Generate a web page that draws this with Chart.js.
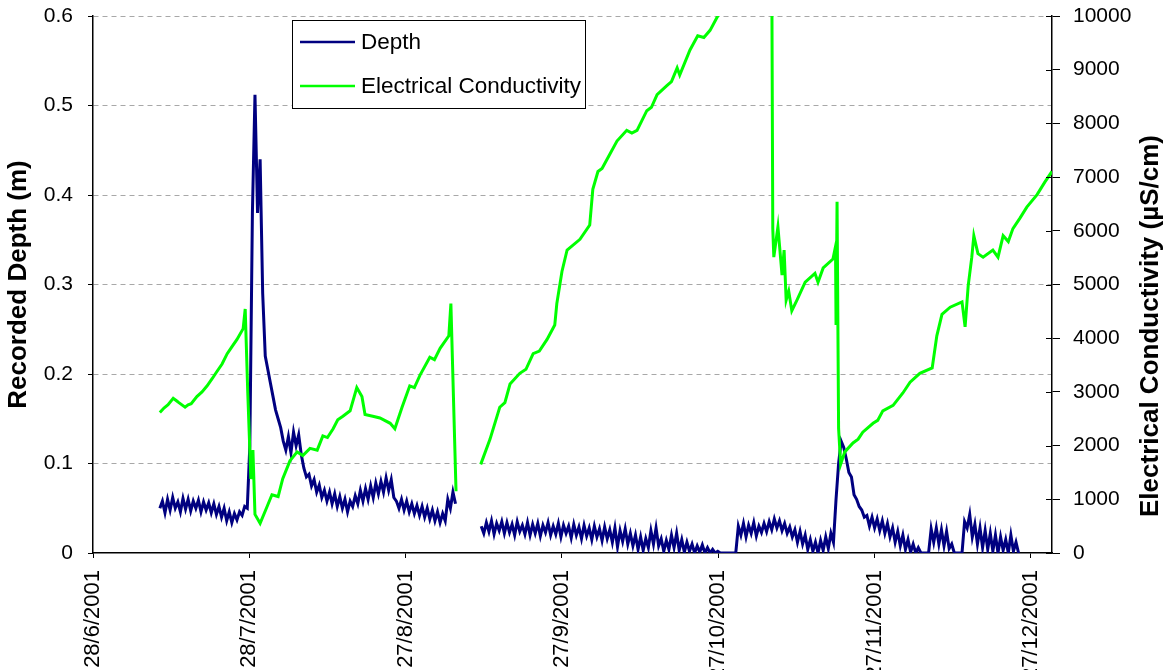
<!DOCTYPE html>
<html>
<head>
<meta charset="utf-8">
<script src="https://cdn.jsdelivr.net/npm/chart.js@4.4.0/dist/chart.umd.min.js"></script>
<style>
    body { margin: 0; background: #fff; }
    #caixa { width: 1171px; height: 670px; }
</style>
</head>
<body>
<div id="caixa"><canvas id="grafico" width="1171" height="670"></canvas></div>
<script>
// rotulos do eixo x (um a cada ~30 dias a partir de 28/6/2001)
var rotulosX = ['28/6/2001', '28/7/2001', '27/8/2001', '27/9/2001', '27/10/2001', '27/11/2001', '27/12/2001'];
var diasEntreRotulos = 30.4;
var diaMaximo = 186.5;

// profundidade (m), leituras a cada 12 h; dias contados a partir de 28/6/2001
var passoDias = 0.5;
var inicioSeg1 = 13.0;
var depthSeg1 = [
    0.050, 0.058, 0.045, 0.060, 0.048, 0.062, 0.050, 0.057, 0.046, 0.061,
    0.049, 0.060, 0.047, 0.058, 0.050, 0.059, 0.046, 0.057, 0.048, 0.056,
    0.045, 0.055, 0.043, 0.052, 0.040, 0.050, 0.036, 0.046, 0.034, 0.044,
    0.037, 0.046, 0.042, 0.052, 0.050, 0.120, 0.380, 0.512, 0.380, 0.440,
    0.290, 0.220, 0.205, 0.190, 0.175, 0.160, 0.150, 0.140, 0.125, 0.115,
    0.130, 0.112, 0.135, 0.120, 0.132, 0.110, 0.095, 0.085, 0.088, 0.075,
    0.082, 0.068, 0.076, 0.062, 0.070, 0.058, 0.068, 0.055, 0.066, 0.052,
    0.063, 0.050, 0.060, 0.046, 0.058, 0.052, 0.064, 0.055, 0.070, 0.058,
    0.072, 0.060, 0.075, 0.062, 0.078, 0.066, 0.080, 0.068, 0.084, 0.070,
    0.082, 0.062, 0.058, 0.050, 0.060, 0.048, 0.058, 0.046, 0.055, 0.044,
    0.053, 0.042, 0.052, 0.040, 0.050, 0.038, 0.048, 0.036, 0.046, 0.034,
    0.044, 0.036, 0.060, 0.050, 0.068, 0.055
];
var inicioSeg2 = 75.5;
var depthSeg2 = [
    0.030, 0.022, 0.034, 0.024, 0.036, 0.021, 0.033, 0.025, 0.035, 0.022,
    0.034, 0.023, 0.032, 0.020, 0.035, 0.024, 0.031, 0.021, 0.034, 0.020,
    0.032, 0.022, 0.033, 0.019, 0.031, 0.023, 0.034, 0.020, 0.030, 0.021,
    0.033, 0.018, 0.031, 0.022, 0.030, 0.017, 0.032, 0.020, 0.029, 0.016,
    0.031, 0.019, 0.028, 0.015, 0.030, 0.018, 0.027, 0.014, 0.029, 0.016,
    0.026, 0.012, 0.028, 0.007, 0.025, 0.013, 0.027, 0.010, 0.022, 0.008,
    0.020, 0.004, 0.018, 0.003, 0.016, 0.006, 0.025, 0.010, 0.028, 0.008,
    0.016, 0.002, 0.014, 0.004, 0.020, 0.006, 0.022, 0.003, 0.015, 0.001,
    0.012, 0.002, 0.010, 0.000, 0.008, 0.001, 0.009, 0.000, 0.006, 0.000,
    0.004, 0.000, 0.002, 0.000, 0.000, 0.000, 0.000, 0.000, 0.000, 0.000,
    0.030, 0.020, 0.033, 0.018, 0.031, 0.022, 0.034, 0.019, 0.030, 0.023,
    0.033, 0.024, 0.035, 0.026, 0.038, 0.028, 0.036, 0.025, 0.033, 0.022,
    0.029, 0.018, 0.026, 0.012, 0.024, 0.010, 0.020, 0.004, 0.015, 0.002,
    0.012, 0.000, 0.014, 0.003, 0.018, 0.005, 0.022, 0.012, 0.060, 0.100,
    0.125, 0.118, 0.105, 0.090, 0.085, 0.065, 0.060, 0.052, 0.048, 0.040,
    0.042, 0.030, 0.040, 0.028, 0.038, 0.025, 0.036, 0.022, 0.033, 0.018,
    0.028, 0.012, 0.024, 0.008, 0.020, 0.004, 0.015, 0.001, 0.010, 0.000,
    0.006, 0.000, 0.000, 0.000, 0.000, 0.027, 0.012, 0.028, 0.010, 0.026,
    0.008, 0.024, 0.005, 0.010, 0.000, 0.000, 0.000, 0.000, 0.035, 0.028,
    0.043, 0.018, 0.032, 0.010, 0.028, 0.006, 0.025, 0.004, 0.022, 0.002,
    0.020, 0.000, 0.018, 0.003, 0.015, 0.000, 0.020, 0.002, 0.012, 0.000
];
var diaFalha = 73;

// condutividade eletrica (uS/cm)
var ecDias = [
    13.0, 13.8, 14.6, 15.6, 16.3, 16.7, 17.9, 18.5, 19.1, 20.2, 21.2, 22.2, 23.2, 24.1, 25.1, 26.1, 27.0, 28.0,
    29.2, 29.6, 30.1, 30.7, 31.1, 31.5, 32.5, 33.8, 34.8, 36.0, 36.9, 38.3, 39.7, 40.8, 42.2, 43.6, 44.7, 45.6, 46.7,
    47.6, 48.6, 50.0, 51.3, 52.3, 52.9, 54.4, 55.8, 57.8, 58.7, 60.1, 61.6, 62.5, 63.6, 65.5, 66.4, 67.5, 69.2, 69.6, 70.6,
    73.0,
    75.4, 77.2, 79.1, 80.1, 81.1, 83.0, 84.2, 85.6, 86.8, 88.3, 89.8, 90.2, 91.2, 92.2, 94.7, 96.6, 97.2, 98.2, 99.0, 100.0, 101.9,
    103.8, 104.8, 105.8, 107.7, 108.6, 109.7, 111.6, 112.5, 113.6, 114.1, 116.1, 117.6, 118.8, 120.0, 121.5, 124.0, 128.0, 132.0,
    132.2, 132.4, 133.2, 134.0, 134.4, 134.8, 135.3, 135.9, 136.9, 138.5, 140.4, 141.0, 142.0, 143.9,
    144.4, 144.5, 144.7, 145.0, 145.4, 146.2, 147.8, 148.8, 149.7, 151.7, 152.6, 153.6, 155.6, 157.5, 158.9, 160.8,
    163.2, 164.1, 165.1, 166.7, 169.0, 169.6, 170.2, 170.9, 171.3, 172.1, 173.1, 175.0, 176.0, 177.0,
    178.0, 178.9, 180.3, 181.6, 183.6, 185.1, 186.5
];
var ecValores = [
    2615, 2700, 2760, 2880, 2830, 2800, 2715, 2760, 2780, 2914, 3000, 3113, 3250, 3380, 3520, 3712, 3840, 3978,
    4178, 4544, 2980, 1377, 1916, 718, 552, 852, 1084, 1051, 1384, 1716, 1883, 1816, 1949, 1916, 2182, 2150, 2315,
    2480, 2548, 2648, 3080, 2914, 2581, 2548, 2515, 2415, 2315, 2714, 3113, 3080, 3313, 3646, 3600, 3812, 4045, 4644, 1151,
    null,
    1650, 2116, 2714, 2800, 3147, 3346, 3420, 3712, 3760, 3978, 4245, 4644, 5242, 5642, 5841, 6107, 6773, 7105, 7160, 7338, 7671,
    7871, 7820, 7871, 8237, 8300, 8536, 8702, 8780, 9035, 8902, 9367, 9633, 9600, 9733, 10000, 10300, 10700, 11000,
    6041, 5509, 6074, 5176, 5642, 4710, 4877, 4511, 4710, 5043, 5209, 5043, 5309, 5475,
    5708, 4245, 6540, 2315, 1650, 1883, 2049, 2120, 2249, 2415, 2470, 2648, 2748, 2980, 3180, 3346,
    3446, 4045, 4444, 4577, 4677, 4211, 4976, 5509, 5908, 5575, 5509, 5642, 5509, 5908,
    5800, 6041, 6240, 6440, 6673, 6906, 7105
];

var corDepth = '#000080';
var corEC = '#00ff00';
var fonte = '"Liberation Sans", Arial, sans-serif';

function montarSerie(inicio, valores) {
    return valores.map(function (v, i) {
        return { x: inicio + i * passoDias, y: v };
    });
}

var dadosDepth = montarSerie(inicioSeg1, depthSeg1)
    .concat([{ x: diaFalha, y: null }])
    .concat(montarSerie(inicioSeg2, depthSeg2));

var dadosEC = ecDias.map(function (d, i) {
    return { x: d, y: ecValores[i] };
});

// largura fixa dos eixos verticais, sem folga extra em cima/embaixo
function fixarLargura(largura) {
    return function (escala) {
        escala.width = largura;
        escala.paddingTop = 0;
        escala.paddingBottom = 0;
    };
}

// legenda dentro do grafico, titulo do eixo direito e tracos internos do eixo direito
var extras = {
    id: 'extras',
    afterDraw: function (chart) {
        var ctx = chart.ctx;
        var area = chart.chartArea;

        // tracos do eixo direito cruzando a linha
        var y1 = chart.scales.y1;
        ctx.save();
        ctx.strokeStyle = '#000';
        ctx.lineWidth = 1;
        y1.ticks.forEach(function (t) {
            var py = Math.round(y1.getPixelForValue(t.value)) + 0.5;
            ctx.beginPath();
            ctx.moveTo(area.right - 6, py);
            ctx.lineTo(area.right, py);
            ctx.stroke();
        });
        ctx.restore();

        // titulo do eixo direito (lido de baixo para cima)
        ctx.save();
        ctx.translate(1151, 326);
        ctx.rotate(-Math.PI / 2);
        ctx.font = 'bold 26px ' + fonte;
        ctx.fillStyle = '#000';
        ctx.textAlign = 'center';
        ctx.textBaseline = 'middle';
        ctx.fillText('Electrical Conductivity (µS/cm)', 0, 0);
        ctx.restore();

        // legenda
        ctx.save();
        ctx.fillStyle = '#fff';
        ctx.fillRect(292, 20, 294, 89);
        ctx.strokeStyle = '#000';
        ctx.lineWidth = 1;
        ctx.strokeRect(292.5, 20.5, 293, 88);
        ctx.font = '22.5px ' + fonte;
        ctx.textBaseline = 'middle';
        chart.data.datasets.slice().reverse().forEach(function (ds, i) {
            var ly = 42 + i * 44;
            ctx.strokeStyle = ds.borderColor;
            ctx.lineWidth = 2.5;
            ctx.beginPath();
            ctx.moveTo(300, ly);
            ctx.lineTo(355, ly);
            ctx.stroke();
            ctx.fillStyle = '#000';
            ctx.fillText(ds.label, 361, ly + 1);
        });
        ctx.restore();
    }
};

var grafico = new Chart(document.getElementById('grafico').getContext('2d'), {
    type: 'line',
    data: {
        datasets: [
            {
                label: 'Electrical Conductivity',
                data: dadosEC,
                yAxisID: 'y1',
                borderColor: corEC,
                borderWidth: 3,
                pointRadius: 0,
                tension: 0,
                spanGaps: false,
                order: 0
            },
            {
                label: 'Depth',
                data: dadosDepth,
                yAxisID: 'y',
                borderColor: corDepth,
                borderWidth: 3,
                pointRadius: 0,
                tension: 0,
                spanGaps: false,
                order: 1
            }
        ]
    },
    options: {
        responsive: false,
        animation: false,
        devicePixelRatio: 1,
        layout: { padding: { top: 16, left: 0, right: 0, bottom: 0 } },
        plugins: {
            legend: { display: false },
            tooltip: { enabled: false }
        },
        scales: {
            x: {
                type: 'linear',
                min: 0,
                max: diaMaximo,
                afterBuildTicks: function (escala) {
                    escala.ticks = rotulosX.map(function (r, i) {
                        return { value: i * diasEntreRotulos };
                    });
                },
                afterFit: function (escala) {
                    escala.height = 117;
                    escala.paddingLeft = 0;
                    escala.paddingRight = 0;
                },
                ticks: {
                    autoSkip: false,
                    minRotation: 90,
                    maxRotation: 90,
                    padding: 12,
                    color: '#000',
                    font: { family: fonte, size: 22 },
                    callback: function (v, i) { return rotulosX[i]; }
                },
                grid: { drawOnChartArea: false, tickLength: 5, tickColor: '#000' },
                border: { color: '#000', width: 1.5 }
            },
            y: {
                position: 'left',
                min: 0,
                max: 0.6,
                afterFit: fixarLargura(93),
                ticks: {
                    stepSize: 0.1,
                    padding: 15,
                    color: '#000',
                    font: { family: fonte, size: 21 },
                    callback: function (v) { return v === 0 ? '0' : v.toFixed(1); }
                },
                grid: {
                    color: function (c) { return c.tick && c.tick.value === 0 ? 'rgba(0,0,0,0)' : '#a8a8a8'; },
                    tickLength: 5,
                    tickColor: '#000'
                },
                border: { color: '#000', width: 1.5, dash: [5, 4] },
                title: {
                    display: true,
                    text: 'Recorded Depth (m)',
                    color: '#000',
                    font: { family: fonte, size: 26, weight: 'bold' },
                    padding: { top: 3, bottom: 0 }
                }
            },
            y1: {
                position: 'right',
                min: 0,
                max: 10000,
                afterFit: fixarLargura(119),
                ticks: {
                    stepSize: 1000,
                    padding: 13,
                    color: '#000',
                    font: { family: fonte, size: 21 },
                    callback: function (v) { return String(v); }
                },
                grid: { drawOnChartArea: false, tickLength: 8, tickColor: '#000' },
                border: { color: '#000', width: 1.5 }
            }
        }
    },
    plugins: [extras]
});
</script>
</body>
</html>
